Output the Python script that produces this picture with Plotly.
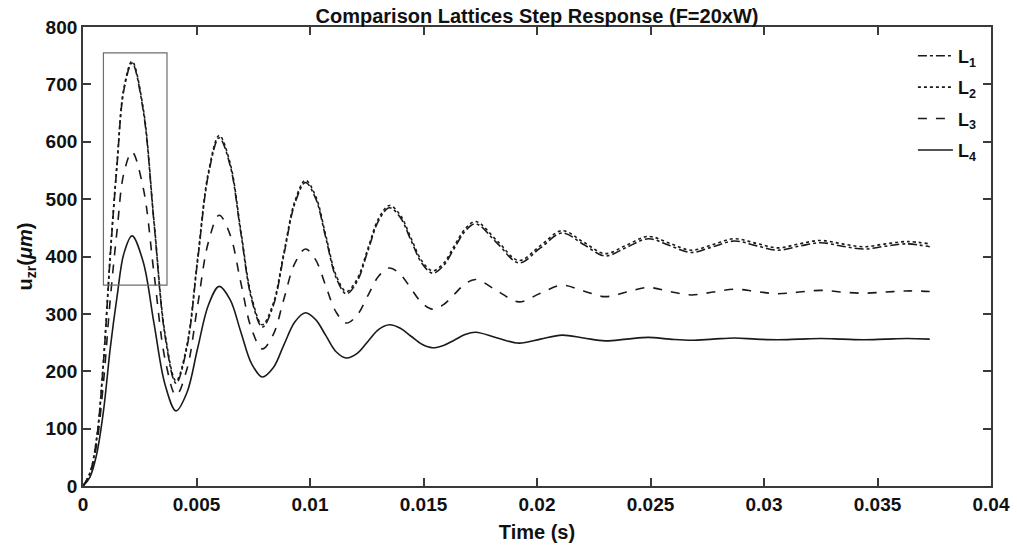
import plotly.graph_objects as go

# Time samples (s): rise, then peaks / quarter points / troughs
time_s = [0, 0.0003, 0.0006, 0.0009, 0.0012, 0.0015, 0.0018, 0.00216,
          0.00265, 0.00313, 0.00362, 0.0041,
          0.00458, 0.00505, 0.00553, 0.0060,
          0.00648, 0.00695, 0.00743, 0.0079,
          0.00838, 0.00885, 0.00933, 0.0098,
          0.01025, 0.0107, 0.01115, 0.0116,
          0.01208, 0.01255, 0.01303, 0.0135,
          0.01398, 0.01445, 0.01493, 0.0154,
          0.01588, 0.01635, 0.01683, 0.0173,
          0.01825, 0.0192, 0.02015, 0.0211, 0.02205, 0.0230, 0.02395, 0.0249,
          0.02585, 0.0268, 0.02775, 0.0287, 0.02965, 0.0306, 0.03155, 0.0325,
          0.03345, 0.0344, 0.03535, 0.0363, 0.0373]

L1 = [0, 22, 82, 215, 400, 560, 690, 737,
      655, 458, 260, 179,
      242, 393, 544, 607,
      559, 442, 325, 277,
      314, 403, 492, 529,
      501, 432, 363, 335,
      357, 410, 463, 485,
      468, 428, 388, 371,
      384, 414, 444, 457,
      423, 389, 415, 441, 421, 401, 416, 431,
      419, 407, 417, 427, 419, 411, 418, 424,
      418, 413, 418, 422, 417]

L2 = [0, 22, 83, 217, 403, 563, 693, 740,
      659, 461, 264, 183,
      246, 397, 548, 611,
      563, 446, 329, 281,
      318, 407, 496, 533,
      505, 436, 367, 339,
      361, 414, 467, 489,
      472, 432, 392, 375,
      388, 418, 448, 461,
      427, 393, 419, 445, 425, 405, 420, 435,
      423, 411, 421, 431, 423, 415, 422, 428,
      422, 417, 422, 426, 422]

L3 = [0, 20, 72, 180, 325, 445, 545, 582,
      520, 370, 220, 158,
      204, 315, 426, 472,
      438, 355, 273, 239,
      264, 326, 388, 413,
      394, 348, 303, 284,
      298, 332, 366, 380,
      369, 344, 319, 308,
      316, 334, 352, 360,
      340, 321, 336, 350, 340, 330, 338, 346,
      339, 333, 338, 343, 339, 335, 338, 341,
      338, 336, 338, 340, 339]

L4 = [0, 15, 55, 130, 240, 330, 405, 436,
      391, 283, 176, 131,
      163, 240, 316, 348,
      325, 269, 213, 190,
      206, 246, 286, 302,
      290, 262, 234, 223,
      231, 252, 273, 281,
      275, 261, 247, 241,
      245, 254, 264, 268,
      258, 249, 256, 263, 258, 253, 256, 259,
      256, 254, 256, 258, 256, 255, 256, 257,
      256, 255, 256, 257, 256]

series_names = ["L<sub>1</sub>", "L<sub>2</sub>", "L<sub>3</sub>", "L<sub>4</sub>"]
series_values = [L1, L2, L3, L4]
series_dash = ["dashdot", "dot", "dash", "solid"]

x_ticks = [0, 0.005, 0.01, 0.015, 0.02, 0.025, 0.03, 0.035, 0.04]
x_tick_labels = ["0", "0.005", "0.01", "0.015", "0.02", "0.025", "0.03", "0.035", "0.04"]
y_ticks = [0, 100, 200, 300, 400, 500, 600, 700, 800]

# zoom box drawn around the first peak (data coordinates)
box_x = [0.0009, 0.0037]
box_y = [350, 755]

FONT = "Liberation Sans, Arial, Helvetica, sans-serif"
AX = "#3a3a3a"

fig = go.Figure()
for i, (name, vals, dash) in enumerate(zip(series_names, series_values, series_dash)):
    fig.add_trace(go.Scatter(
        x=time_s, y=vals, mode="lines", name=name, legendgroup=f"g{i}",
        line=dict(color="#1a1a1a", width=1.6, dash=dash, shape="spline", smoothing=1.0),
    ))

fig.add_shape(type="rect", xref="x", yref="y",
              x0=box_x[0], x1=box_x[1], y0=box_y[0], y1=box_y[1],
              line=dict(color="#6e6e6e", width=1.2), fillcolor="rgba(0,0,0,0)")

axis_common = dict(
    showgrid=False, zeroline=False, showline=True, linecolor=AX, linewidth=1.8,
    mirror="ticks", ticks="inside", ticklen=8, tickwidth=1.5, tickcolor=AX,
    tickfont=dict(family=FONT, size=19, color="#111", weight="bold"),
    automargin=False,
)

fig.update_layout(
    width=1017, height=548,
    margin=dict(l=83, r=26, t=27, b=62),
    paper_bgcolor="white", plot_bgcolor="white",
    font=dict(family=FONT, color="#111"),
    title=dict(text="Comparison Lattices Step Response (F=20xW)",
               font=dict(family=FONT, size=20, color="#111", weight="bold"),
               x=0.5, xref="paper", xanchor="center",
               y=1 - 15.5 / 548, yref="container", yanchor="middle"),
    xaxis=dict(range=[0, 0.04], tickvals=x_ticks, ticktext=x_tick_labels,
               title=dict(text="Time (s)", font=dict(family=FONT, size=20, weight="bold"),
                          standoff=11),
               **axis_common),
    yaxis=dict(range=[0, 800], tickvals=y_ticks,
               title=dict(text="u<sub>zr</sub>(<i>μm</i>)",
                          font=dict(family=FONT, size=20, weight="bold"), standoff=8),
               **axis_common),
    legend=dict(x=0.99, xanchor="right", y=0.977, yanchor="top",
                bgcolor="rgba(0,0,0,0)", borderwidth=0,
                font=dict(family=FONT, size=18, color="#111", weight="bold"),
                itemwidth=35, tracegroupgap=5),
    showlegend=True,
)

fig.write_html("out.html")
